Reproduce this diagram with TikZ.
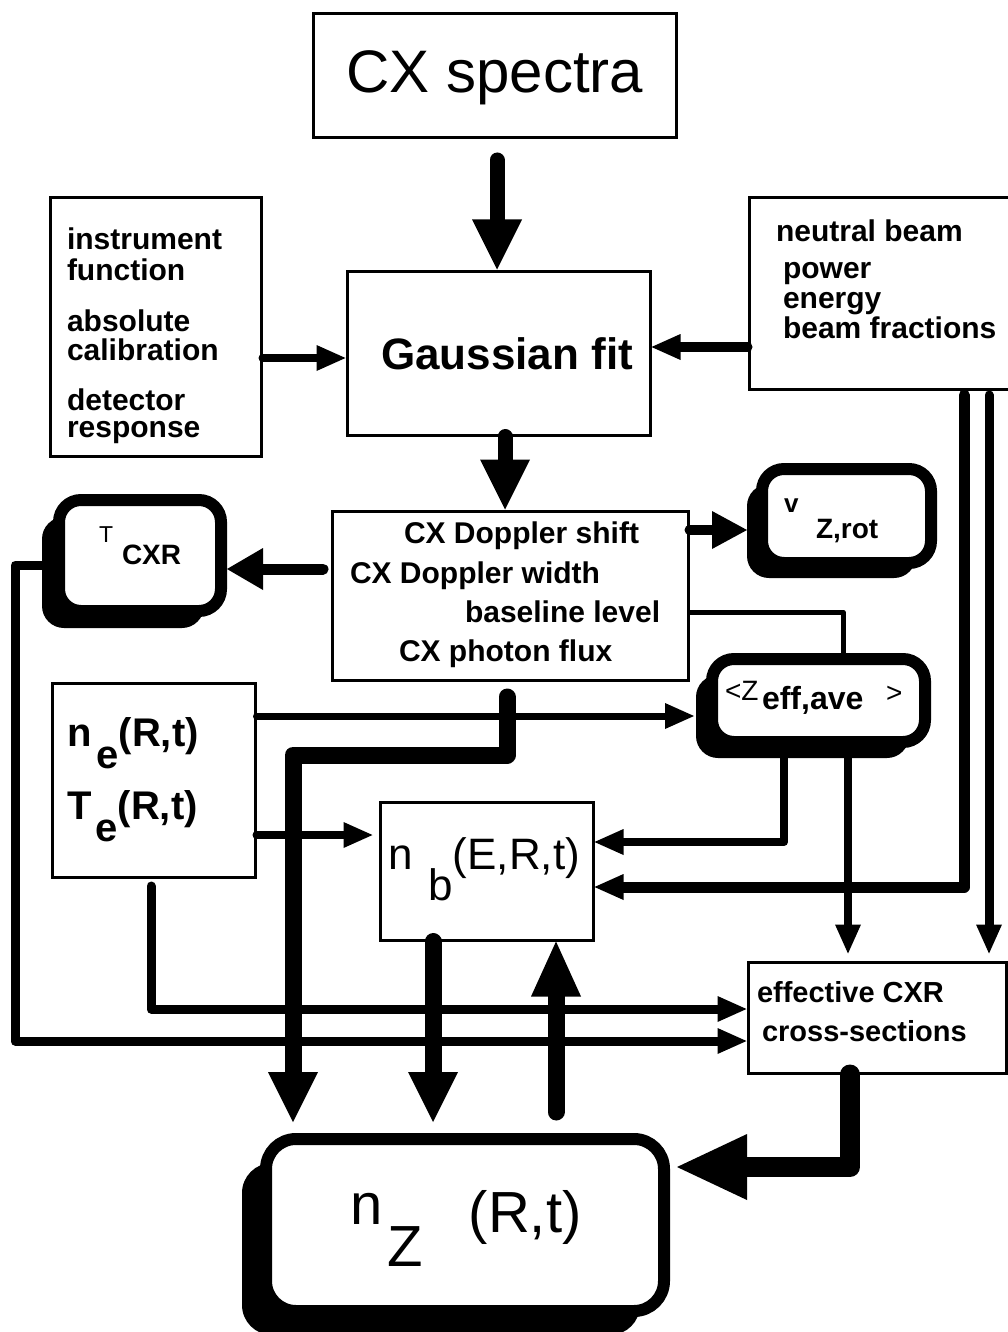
\documentclass[tikz,border=0pt]{standalone}
\usepackage{fontspec}
\setmainfont{Liberation Sans}
\usetikzlibrary{arrows.meta,shadows,calc}
\newcommand{\fsz}[1]{\fontsize{#1pt}{#1pt}\selectfont}
\begin{document}
\begin{tikzpicture}[x=1pt,y=-1pt,
  plainbox/.style={draw, line width=3pt, fill=white, inner sep=0pt},
  shbox/.style={draw, line width=12pt, fill=white, inner sep=0pt, rounded corners=22pt,
     general shadow={fill=black, shadow xshift=-#1pt, shadow yshift=-#1pt}},
  txt/.style={inner sep=0pt, outer sep=0pt, anchor=base west},
  conn/.style={line cap=round, line join=round},
  heavy/.style={conn, line width=15pt, -{Triangle[length=50pt,width=50pt,line width=0pt]}},
  huge/.style={conn, line width=20pt, -{Triangle[length=70pt,width=66pt,line width=0pt]}},
  mid/.style={conn, line width=11pt, -{Triangle[length=36pt,width=42pt,line width=0pt]}},
  light/.style={conn, line width=8pt, -{Triangle[length=29pt,width=26pt,line width=0pt]}},
  plainline/.style={conn, line width=5pt}
]
\fill[white] (0,0) rectangle (1008,1332);
\useasboundingbox (0,0) rectangle (1008,1332);

% ---- plain boxes
\node[plainbox, minimum width=363pt, minimum height=124pt] (spectra) at (494.5,76) {};
\node[plainbox, minimum width=303pt, minimum height=164pt] (gauss) at (498.5,353) {};
\node[plainbox, minimum width=211pt, minimum height=258pt] (instr) at (155.5,327) {};
\node[plainbox, minimum width=263pt, minimum height=191pt] (beam) at (880.5,293.5) {};
\node[plainbox, minimum width=356pt, minimum height=169pt] (results) at (510,595.5) {};
\node[plainbox, minimum width=203pt, minimum height=194pt] (ne) at (153.5,780) {};
\node[plainbox, minimum width=213pt, minimum height=138pt] (nb) at (486.5,871) {};
\node[plainbox, minimum width=258pt, minimum height=111pt] (cxr) at (877,1017.5) {};

% ---- shadowed boxes
\node[shbox=17, minimum width=162pt, minimum height=111pt] (tcxr) at (140,555.5) {};
\node[shbox=15, minimum width=169pt, minimum height=94pt] (vz) at (846.5,516) {};
\node[shbox=16, minimum width=213pt, minimum height=83pt] (zeff) at (818.5,700.5) {};
\node[shbox=24, rounded corners=30pt, minimum width=398pt, minimum height=172pt] (nz) at (465,1225) {};

% ---- connectors
\coordinate (s1) at (497,160);
\draw[heavy] (s1) -- (s1 |- gauss.north);
\draw[light] (instr.east |- 0,358) -- (gauss.west |- 0,358);
\draw[light, line width=10pt] (beam.west |- 0,347) -- (gauss.east |- 0,347);
\draw[heavy] (505,0 |- gauss.south) -- (505,0 |- results.north);
\coordinate (s5) at (323,569);
\draw[mid] (s5) -- (tcxr.east |- s5);
\draw[mid, line width=10pt, -{Triangle[length=35pt,width=38pt,line width=0pt]}, shorten >=9pt]
  (results.east |- 0,530) -- (vz.west |- 0,530);
\coordinate (k7) at (843,612);
\draw[plainline] (results.east |- k7) -- (k7) -- (k7 |- zeff.north);
\draw[light, line width=7pt, shorten >=12pt] (ne.east |- 0,716) -- (zeff.west |- 0,716);
\coordinate (r1) at (507,697);
\draw[heavy, line width=17pt, shorten >=11pt] (r1) -- (507,755) -- (293,755) -- (293,0 |- nz.north);
\draw[light, shorten >=6pt] (ne.east |- 0,835) -- (nb.west |- 0,835);
\draw[light] (784,0 |- zeff.south) -- (784,842) -- (nb.east |- 0,842);
\draw[light, shorten >=7pt] (848,0 |- zeff.south) -- (848,0 |- cxr.north);
\coordinate (b1) at (964,395);
\draw[light, line width=11pt] (b1) -- (964,887) -- (nb.east |- 0,887);
\coordinate (b2) at (989,395);
\draw[light, line width=9pt, shorten >=7pt] (b2) -- (b2 |- cxr.north);
\coordinate (e1) at (151,886);
\draw[light, line width=9pt] (e1) -- (151,1009) -- (cxr.west |- 0,1009);
\draw[light, line width=9pt] (tcxr.west |- 0,565) -- (15,565) -- (15,1041) -- (cxr.west |- 0,1041);
\draw[heavy, line width=17pt, shorten >=11pt] (433,0 |- nb.south) -- (433,0 |- nz.north);
\coordinate (u1) at (556,1112);
\draw[heavy, line width=17pt, -{Triangle[length=55pt,width=50pt,line width=0pt]}] (u1) -- (u1 |- nb.south);
\draw[huge, shorten >=7pt] (850,0 |- cxr.south) -- (850,1167) -- (nz.east |- 0,1167);

% ---- texts
\node[txt, anchor=base] (tspec) at (495,93) {\fsz{60}CX spectra};
\node[txt, anchor=base] (tgauss) at (507,369) {\fsz{44}\bfseries Gaussian fit};

\node[txt] (ti1) at (67,250) {\fsz{30}\bfseries instrument};
\node[txt] (ti2) at (67,280) {\fsz{30}\bfseries function};
\node[txt] (ti3) at (67,331) {\fsz{30}\bfseries absolute};
\node[txt] (ti4) at (67,360) {\fsz{30}\bfseries calibration};
\node[txt] (ti5) at (67,410) {\fsz{30}\bfseries detector};
\node[txt] (ti6) at (67,437) {\fsz{30}\bfseries response};

\node[txt] (tb1) at (776,241) {\fsz{30}\bfseries neutral beam};
\node[txt] (tb2) at (783,278) {\fsz{30}\bfseries power};
\node[txt] (tb3) at (783,308) {\fsz{30}\bfseries energy};
\node[txt] (tb4) at (783,338) {\fsz{30}\bfseries beam fractions};

\node[txt] (tr1) at (404,543) {\fsz{30}\bfseries CX Doppler shift};
\node[txt] (tr2) at (350,583) {\fsz{30}\bfseries CX Doppler width};
\node[txt] (tr3) at (465,622) {\fsz{30}\bfseries baseline level};
\node[txt] (tr4) at (399,661) {\fsz{30}\bfseries CX photon flux};

\node[txt] (tc1) at (757,1002) {\fsz{29}\bfseries effective CXR};
\node[txt] (tc2) at (762,1041) {\fsz{29}\bfseries cross-sections};

\node[txt] (tt1) at (99,542) {\fsz{23}T};
\node[txt] (tt2) at (122,564) {\fsz{28}\bfseries CXR};

\node[txt] (tv1) at (784,512) {\fsz{26}\bfseries v};
\node[txt] (tv2) at (816,538) {\fsz{28}\bfseries Z,rot};

\node[txt] (tz1) at (725,700) {\fsz{28}{<}Z};
\node[txt] (tz2) at (762,709) {\fsz{32}\bfseries eff,ave};
\node[txt] (tz3) at (886,702) {\fsz{28}{>}};

\node[txt] (tne) at (67,746) {\fsz{40}\bfseries n\hspace{5pt}\raisebox{-22pt}{e}(R,t)};
\node[txt] (tte) at (67,819) {\fsz{40}\bfseries T\hspace{4pt}\raisebox{-22pt}{e}(R,t)};

\node[txt] (tnb) at (388,869) {\fsz{44}n\hspace{16pt}\raisebox{-31pt}{b}(E,R,t)};

\node[txt] (tnz) at (350,1224) {\fsz{58}n\hspace{5pt}\raisebox{-42pt}{Z}\hspace{46pt}\raisebox{-8pt}{(R,t)}};
\end{tikzpicture}
\end{document}
